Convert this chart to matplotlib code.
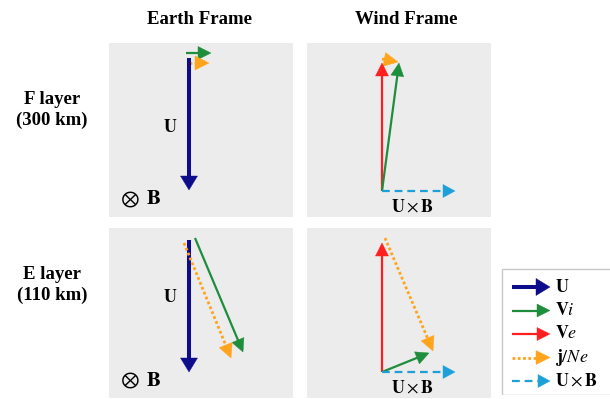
import numpy as np
import matplotlib
matplotlib.use("Agg")
import matplotlib.pyplot as plt
from matplotlib.patches import Polygon, Rectangle

plt.rcParams["font.family"] = ["Liberation Serif", "DejaVu Serif"]
plt.rcParams["mathtext.fontset"] = "stix"

W, H = 610, 399

# Column / row headings
col_titles = ["Earth Frame", "Wind Frame"]
row_titles = ["F layer\n(300 km)", "E layer\n(110 km)"]

# Vector styles
colors = {"U": "#0d0d8c", "Vi": "#1e8d3c", "Ve": "#ff1f1f",
          "jNe": "#ffa41c", "UxB": "#1d9fd8"}
labels = {"U": r"$\mathbf{U}$", "Vi": r"$\mathbf{V}\mathit{i}$",
          "Ve": r"$\mathbf{V}\mathit{e}$", "jNe": r"$\mathbf{j}/\mathit{Ne}$",
          "UxB": r"$\mathbf{U}\times\mathbf{B}$"}
order = ["U", "Vi", "Ve", "jNe", "UxB"]

# Vectors per panel: name -> (tail x, tail y, dx, dy), in panel pixel units (y up)
f_earth = {"Vi": (77, 164, 25, 0),
           "jNe": (80, 154, 20, 0),
           "U": (80, 159, 0, -132)}
f_wind = {"jNe": (75, 158, 16, -3),
          "Ve": (75, 26, 0, 128),
          "Vi": (75, 26, 17, 128),
          "UxB": (75, 26, 73, 0)}
e_earth = {"U": (80, 158, 0, -132),
           "Vi": (86, 160, 48, -114),
           "jNe": (75, 155, 47, -115)}
e_wind = {"Ve": (75, 26, 0, 129),
          "jNe": (78, 160, 48, -113),
          "Vi": (75, 26, 47, 19),
          "UxB": (75, 26, 73, 0)}

style = {"U": dict(lw=2.9, ls="-", hl=14, hw=8.5),
         "Vi": dict(lw=1.6, ls="-", hl=13, hw=6.5),
         "Ve": dict(lw=1.6, ls="-", hl=13, hw=6.5),
         "jNe": dict(lw=2.0, ls=(0, (1, 0.9)), hl=14, hw=7),
         "UxB": dict(lw=1.6, ls=(0, (3.5, 2.2)), hl=12, hw=6.5)}


def px_axes(fig, x0, y0, x1, y1, fc):
    ax = fig.add_axes([x0 / W, 1 - y1 / H, (x1 - x0) / W, (y1 - y0) / H])
    ax.set_xlim(0, x1 - x0)
    ax.set_ylim(0, y1 - y0)
    ax.set_facecolor(fc)
    ax.set_xticks([])
    ax.set_yticks([])
    for s in ax.spines.values():
        s.set_visible(False)
    return ax


def draw_vec(ax, name, tx, ty, dx, dy):
    st = style[name]
    c = colors[name]
    tail = np.array([tx, ty], float)
    v = np.array([dx, dy], float)
    n = np.hypot(*v)
    u = v / n
    p = np.array([-u[1], u[0]])
    tip = tail + v
    base = tip - u * st["hl"]
    ax.plot([tail[0], base[0] + u[0]], [tail[1], base[1] + u[1]], color=c,
            lw=st["lw"], ls=st["ls"], solid_capstyle="butt",
            dash_capstyle="butt", zorder=2)
    head = Polygon([tip, base + p * st["hw"], base - p * st["hw"]],
                   closed=True, fc=c, ec=c, lw=0.3, zorder=3)
    ax.add_patch(head)


fig = plt.figure(figsize=(W / 100, H / 100), dpi=100)

panel_bg = "#ececec"
boxes = [(109, 43, 293, 217), (307, 43, 491, 217),
         (109, 228, 293, 398), (307, 228, 491, 398)]
panels = [f_earth, f_wind, e_earth, e_wind]
axes = []
for box, vecs in zip(boxes, panels):
    ax = px_axes(fig, *box, panel_bg)
    for name, (tx, ty, dx, dy) in vecs.items():
        draw_vec(ax, name, tx, ty, dx, dy)
    axes.append(ax)

# Annotations inside the Earth-frame panels
for ax, uy in [(axes[0], 90), (axes[2], 100)]:
    ax.text(61, uy, r"$\mathbf{U}$", fontsize=13, ha="center", va="center")
    ax.text(11, 17, r"$\otimes$", fontsize=16, ha="left", va="center")
    ax.text(37, 17, r"$\mathbf{B}$", fontsize=15, ha="left", va="center")
for ax in (axes[1], axes[3]):
    ax.text(105, 10, labels["UxB"], fontsize=13, ha="center", va="center")

# Column and row headings
for x, t in zip([200, 406], col_titles):
    fig.text(x / W, 1 - 20 / H, t, fontsize=13.5, fontweight="bold",
             ha="center", va="center")
for y, t in zip([110, 285], row_titles):
    fig.text(52 / W, 1 - y / H, t, fontsize=13.5, fontweight="bold",
             ha="center", va="center", linespacing=1.35)

# Legend box
lax = px_axes(fig, 501, 268, 610, 395, "white")
lax.add_patch(Rectangle((0.5, 0.5), 110, 126, fill=False, ec="#c8c8c8", lw=1))
row_y = [108, 84.5, 61, 37.5, 14]
for name, y in zip(order, row_y):
    draw_vec(lax, name, 11, y, 38, 0)
    lax.text(54, y, labels[name], fontsize=13, ha="left", va="center")

fig.savefig("out.png", dpi=100)
